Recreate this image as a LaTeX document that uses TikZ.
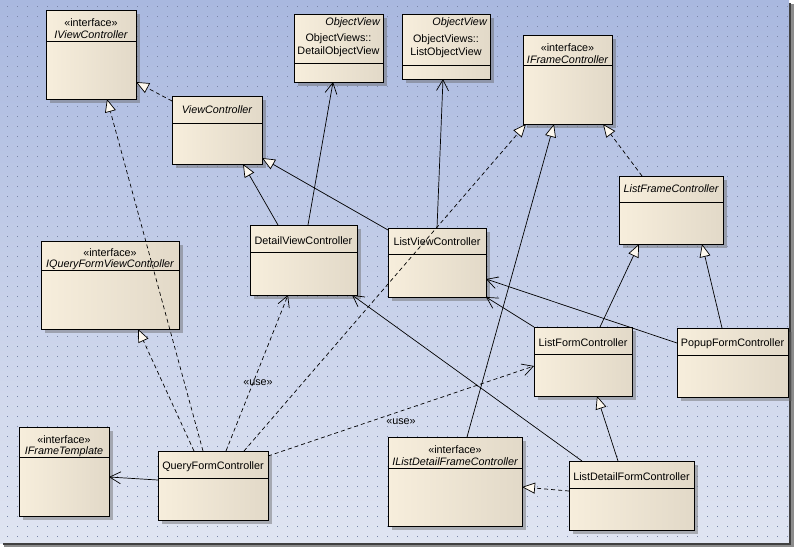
\documentclass[tikz,border=0pt]{standalone}
\usepackage{fontspec}
\setmainfont{Liberation Sans}
\usetikzlibrary{arrows.meta,shadows}
\definecolor{bgtop}{HTML}{A9B8DF}
\definecolor{bgbot}{HTML}{E0E5F2}
\definecolor{dotc}{HTML}{7A86A8}
\definecolor{creamL}{HTML}{F7EEDC}
\definecolor{creamM}{HTML}{FCF5E9}
\definecolor{creamR}{HTML}{E2D9C8}
\definecolor{trifill}{HTML}{FDF8EE}
\tikzset{
  umlbox/.style={draw=black, line width=0.8pt, anchor=north west, inner sep=0pt, outer sep=0pt,
    left color=creamL, middle color=creamM, right color=creamR,
    drop shadow={shadow xshift=4pt, shadow yshift=-4pt, opacity=0.45, fill=black!60}},
  lbl/.style={inner sep=0pt, font=\fontsize{10.8}{12}\selectfont},
  conn/.style={line width=0.7pt, black},
  gen/.style={conn, -{Triangle[length=13pt,width=11pt,fill=trifill,line width=0.7pt]}},
  real/.style={gen, dash pattern=on 4pt off 3pt},
  assoc/.style={conn, -{Straight Barb[length=11pt,width=12pt,line width=0.7pt]}},
  usedep/.style={assoc, dash pattern=on 4pt off 3pt}
}
\newcommand\umlcls[6]{%
  \node[umlbox, minimum width={(#4-#2)*1pt}, minimum height={(#5-#3)*1pt}] (#1) at (#2,#3) {};
  \draw[line width=0.8pt] (#2,#6) -- (#4,#6);
}
\begin{document}
\begin{tikzpicture}[x=1pt,y=-1pt]
\useasboundingbox (0,0) rectangle (794,547);
% background
\shade[top color=bgtop, bottom color=bgbot] (0,0) rectangle (789,543);
\foreach \i in {7,17,...,787}{\foreach \j in {6,16,...,536}{\fill[dotc] (\i,\j) rectangle ++(1,1);}}
\fill[black!75] (789,3) rectangle (791,545);
\fill[black!45] (791,4) rectangle (794,547);
\fill[black!75] (3,543) rectangle (791,545);
\fill[black!45] (4,545) rectangle (794,547);

% classes
\umlcls{ivc}{46}{10}{136}{99}{41}
\node[lbl] (ivc-s) at (91,23) {«interface»};
\node[lbl] (ivc-n) at (91,35) {\itshape IViewController};

\umlcls{vc}{172}{96}{262}{164}{123}
\node[lbl] (vc-n) at (217,110) {\itshape ViewController};

\umlcls{dov}{294}{14}{383}{82}{63}
\node[lbl, anchor=east] (dov-s) at (380,23) {\itshape ObjectView};
\node[lbl] (dov-p) at (338.5,39) {ObjectViews::};
\node[lbl] (dov-n) at (338.5,52) {DetailObjectView};

\umlcls{lov}{402}{14}{490}{79}{65}
\node[lbl, anchor=east] (lov-s) at (487,23) {\itshape ObjectView};
\node[lbl] (lov-p) at (446,40) {ObjectViews::};
\node[lbl] (lov-n) at (446,53) {ListObjectView};

\umlcls{ifc}{523}{35}{612}{124}{65}
\node[lbl] (ifc-s) at (567.5,48) {«interface»};
\node[lbl] (ifc-n) at (567.5,60) {\itshape IFrameController};

\umlcls{lfc}{619}{176}{723}{244}{202}
\node[lbl] (lfc-n) at (671,189) {\itshape ListFrameController};

\umlcls{iqfvc}{41}{241}{179}{329}{270}
\node[lbl] (iqfvc-s) at (110,253) {«interface»};
\node[lbl] (iqfvc-n) at (110,265) {\itshape IQueryFormViewController};

\umlcls{dvc}{250}{225}{357}{295}{252}
\node[lbl] (dvc-n) at (303.5,241) {DetailViewController};

\umlcls{lvc}{388}{228}{486}{297}{254}
\node[lbl] (lvc-n) at (437,242) {ListViewController};

\umlcls{lfoc}{534}{327}{632}{396}{354}
\node[lbl] (lfoc-n) at (583,343) {ListFormController};

\umlcls{pfc}{677}{328}{788}{397}{355}
\node[lbl] (pfc-n) at (732.5,344) {PopupFormController};

\umlcls{ift}{19}{427}{109}{516}{457}
\node[lbl] (ift-s) at (64,440) {«interface»};
\node[lbl] (ift-n) at (64,452) {\itshape IFrameTemplate};

\umlcls{qfc}{158}{451}{268}{520}{478}
\node[lbl] (qfc-n) at (213,467) {QueryFormController};

\umlcls{ildfc}{388}{437}{522}{526}{468}
\node[lbl] (ildfc-s) at (455,450) {«interface»};
\node[lbl] (ildfc-n) at (455,462) {\itshape IListDetailFrameController};

\umlcls{ldfc}{569}{461}{694}{530}{488}
\node[lbl] (ldfc-n) at (631.5,477) {ListDetailFormController};

% connectors
\draw[real] ([yshift=-5pt]vc.north west) -- ([yshift=17pt]ivc.south east);
\draw[real] ([xshift=45pt]qfc.north west) -- ([xshift=61pt]ivc.south west);
\draw[gen] ([xshift=28pt]dvc.north west) -- ([xshift=71pt]vc.south west);
\draw[gen] ([yshift=-2pt]lvc.north west) -- ([yshift=6pt]vc.south east);
\draw[assoc] ([xshift=58pt]dvc.north west) -- ([xshift=39pt]dov.south west);
\draw[assoc] ([xshift=49pt]lvc.north west) -- ([xshift=41pt]lov.south west);
\draw[real] ([xshift=86pt]qfc.north west) -- ([xshift=3pt]ifc.south west);
\draw[gen] ([xshift=79pt]ildfc.north west) -- ([xshift=31pt]ifc.south west);
\draw[real] ([xshift=23pt]lfc.north west) -- ([xshift=-9pt]ifc.south east);
\draw[gen] ([xshift=66pt]lfoc.north west) -- ([xshift=20pt]lfc.south west);
\draw[gen] ([xshift=45pt]pfc.north west) -- ([xshift=-21pt]lfc.south east);
\draw[assoc] (lfoc.north west) -- (lvc.south east);
\draw[assoc] ([yshift=-15pt]pfc.north west) -- ([yshift=18pt]lvc.south east);
\draw[assoc] ([xshift=13pt]ldfc.north west) -- ([xshift=-5pt]dvc.south east);
\draw[gen] ([xshift=49pt]ldfc.north west) -- ([xshift=63pt]lfoc.south west);
\draw[real] ([yshift=-30pt]ldfc.north west) -- ([yshift=-50pt]ildfc.north east);
\draw[usedep] ([xshift=68pt]qfc.north west) -- ([xshift=38pt]dvc.south west);
\draw[usedep] ([yshift=-5pt]qfc.north east) -- ([yshift=-39pt]lfoc.north west);
\draw[assoc] ([yshift=-29pt]qfc.north west) -- ([yshift=-50pt]ift.north east);
\draw[real] ([xshift=36pt]qfc.north west) -- ([xshift=97pt]iqfvc.south west);

\node[lbl] (use1) at (258,383) {«use»};
\node[lbl] (use2) at (401,422) {«use»};
\end{tikzpicture}
\end{document}
